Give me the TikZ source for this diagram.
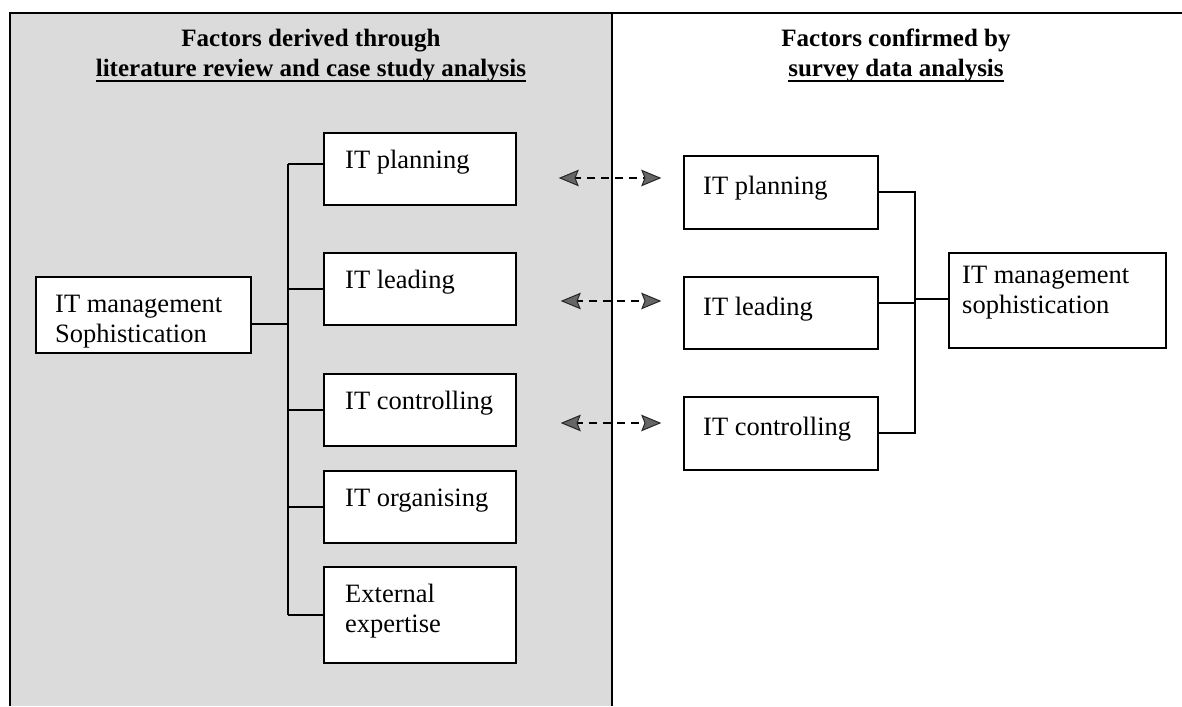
\documentclass[tikz,border=0pt]{standalone}
\usepackage{fontspec}
\setmainfont{Liberation Serif}

\begin{document}
\begin{tikzpicture}[x=1pt,y=-1pt,
  factorbox/.style={draw=black,line width=1.6pt,fill=white,anchor=north west,
    inner sep=0pt,outer sep=0pt},
  boxtext/.style={anchor=base west,inner sep=0pt,align=left,
    font=\fontsize{26.5}{30}\selectfont},
  headtext/.style={anchor=base,inner sep=0pt,
    font=\fontsize{25}{30}\selectfont\bfseries},
  link/.style={draw=black,line width=1.3pt},
  exchange/.style={draw=black,line width=1.4pt,dash pattern=on 8pt off 6pt,
    shorten <=13pt,shorten >=13pt},
  tiphead/.pic={\filldraw[fill=black!60,draw=black!85,line width=1pt,line join=miter]
    (0,0) -- (-18,-7.5) -- (-15,0) -- (-18,7.5) -- cycle;},
  underrule/.style={draw=black,line width=1.5pt}]

  \useasboundingbox (0,0) rectangle (1182,706);

  % shaded left panel and the top rule
  \fill[black!14] (10,13) rectangle (612,706);
  \draw[line width=1.5pt] (10,706) -- (10,13) -- (612,13) -- (612,706);
  \draw[line width=1.5pt] (612,13) -- (1182,13);

  % column headings
  \node[headtext] (hl1) at (311,47) {Factors derived through};
  \node[headtext] (hl2) at (311,77) {literature review and case study analysis};
  \draw[underrule] ([yshift=-4pt]hl2.base west) -- ([yshift=-4pt]hl2.base east);
  \node[headtext] (hr1) at (896,47) {Factors confirmed by};
  \node[headtext] (hr2) at (896,77) {survey data analysis};
  \draw[underrule] ([yshift=-4pt]hr2.base west) -- ([yshift=-4pt]hr2.base east);

  % left side: construct and its five factors
  \node[factorbox,minimum width=215pt,minimum height=76pt] (lmain) at (36,277) {};
  \node[boxtext] (lmaintxt) at (55,342) {IT management\\Sophistication};

  \node[factorbox,minimum width=192pt,minimum height=72pt] (lplan) at (324,133) {};
  \node[boxtext] (lplantxt) at (345,168) {IT planning};
  \node[factorbox,minimum width=192pt,minimum height=72pt] (llead) at (324,253) {};
  \node[boxtext] (lleadtxt) at (345,288) {IT leading};
  \node[factorbox,minimum width=192pt,minimum height=72pt] (lcont) at (324,374) {};
  \node[boxtext] (lconttxt) at (345,409) {IT controlling};
  \node[factorbox,minimum width=192pt,minimum height=72pt] (lorg) at (324,471) {};
  \node[boxtext] (lorgtxt) at (345,506) {IT organising};
  \node[factorbox,minimum width=192pt,minimum height=96pt] (lext) at (324,567) {};
  \node[boxtext] (lexttxt) at (345,632) {External\\expertise};

  % left tree connectors
  \coordinate (jm) at (288,324);
  \coordinate (jp) at (288,164);
  \coordinate (jl) at (288,289);
  \coordinate (jc) at (288,410);
  \coordinate (jo) at (288,507);
  \coordinate (je) at (288,615);
  \draw[link] (lmain.east |- jm) -- (jm);
  \draw[link] (jp) -- (je);
  \draw[link] (jp) -- (lplan.west |- jp);
  \draw[link] (jl) -- (llead.west |- jl);
  \draw[link] (jc) -- (lcont.west |- jc);
  \draw[link] (jo) -- (lorg.west |- jo);
  \draw[link] (je) -- (lext.west |- je);

  % right side: confirmed factors and construct
  \node[factorbox,minimum width=194pt,minimum height=73pt] (rplan) at (684,156) {};
  \node[boxtext] (rplantxt) at (703,194) {IT planning};
  \node[factorbox,minimum width=194pt,minimum height=72pt] (rlead) at (684,277) {};
  \node[boxtext] (rleadtxt) at (703,315) {IT leading};
  \node[factorbox,minimum width=194pt,minimum height=73pt] (rcont) at (684,397) {};
  \node[boxtext] (rconttxt) at (703,435) {IT controlling};
  \node[factorbox,minimum width=217pt,minimum height=95pt] (rmain) at (949,253) {};
  \node[boxtext] (rmaintxt) at (962,313) {IT management\\sophistication};

  % right tree connectors
  \coordinate (kp) at (915,192);
  \coordinate (kl) at (915,303);
  \coordinate (kc) at (915,433);
  \coordinate (km) at (915,299);
  \draw[link] (rplan.east |- kp) -- (kp) -- (kc) -- (rcont.east |- kc);
  \draw[link] (rlead.east |- kl) -- (kl);
  \draw[link] (km) -- (rmain.west |- km);

  % correspondence arrows between the two columns: dashed shaft, solid heads
  \coordinate (a1l) at (560,178);
  \coordinate (a1r) at (660,178);
  \coordinate (a2l) at (562,301);
  \coordinate (a2r) at (660,301);
  \coordinate (a3l) at (562,423);
  \coordinate (a3r) at (660,423);
  \foreach \p in {1,2,3} {
    \draw[exchange] (a\p l) -- (a\p r);
    \pic[xscale=-1] at (a\p l) {tiphead};
    \pic at (a\p r) {tiphead};
  }
\end{tikzpicture}
\end{document}
